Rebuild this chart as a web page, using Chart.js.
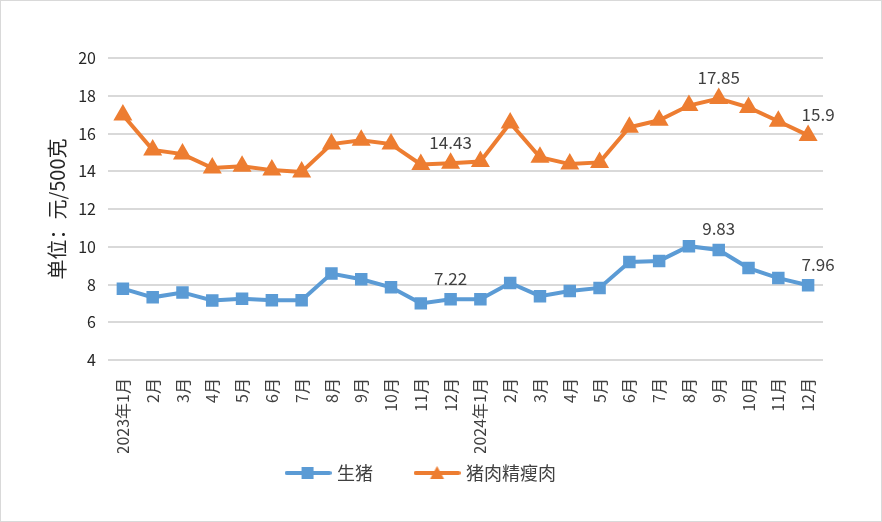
<!DOCTYPE html>
<html>
<head>
<meta charset="utf-8">
<script src="https://cdn.jsdelivr.net/npm/chart.js@4"></script>
<style>
  html, body { margin: 0; padding: 0; background: #fff; }
  #wrap { width: 882px; height: 522px; position: relative; }
</style>
</head>
<body>
<div id="wrap"><canvas id="myChart" width="882" height="522"></canvas></div>
<script>
const months = ['2023年1月', '2月', '3月', '4月', '5月', '6月', '7月', '8月', '9月', '10月', '11月', '12月',
  '2024年1月', '2月', '3月', '4月', '5月', '6月', '7月', '8月', '9月', '10月', '11月', '12月'];

const hogPrice = [7.78, 7.32, 7.58, 7.15, 7.25, 7.17, 7.17, 8.58, 8.28, 7.85, 7.0, 7.22,
  7.22, 8.08, 7.38, 7.66, 7.82, 9.19, 9.25, 10.03, 9.83, 8.87, 8.34, 7.96];

const leanPork = [16.98, 15.13, 14.91, 14.17, 14.27, 14.06, 13.96, 15.44, 15.64, 15.44, 14.36, 14.43,
  14.52, 16.56, 14.74, 14.38, 14.47, 16.33, 16.7, 17.48, 17.85, 17.38, 16.65, 15.9];

// which points get a value label
const labelAt = [11, 20, 23];

const yTicks = [4, 6, 8, 10, 12, 14, 16, 18, 20];

const blue = '#5b9bd5';
const orange = '#ed7d31';
const txt = '#404040';
const font = "'Noto Sans CJK SC', 'Noto Sans', sans-serif";

function legendIcon(color, shape) {
  const c = document.createElement('canvas');
  c.width = 47; c.height = 14;
  const g = c.getContext('2d');
  g.strokeStyle = color; g.lineWidth = 4; g.lineCap = 'round';
  g.beginPath(); g.moveTo(2, 7); g.lineTo(45, 7); g.stroke();
  g.fillStyle = color;
  if (shape === 'rect') {
    g.fillRect(17, 1, 12, 12);
  } else {
    g.beginPath(); g.moveTo(23.5, 0); g.lineTo(30.5, 13); g.lineTo(16.5, 13); g.closePath(); g.fill();
  }
  return c;
}

const frame = {
  id: 'frame',
  beforeDraw(chart) {
    const c = chart.ctx;
    c.save();
    c.fillStyle = '#fff';
    c.fillRect(0, 0, chart.width, chart.height);
    c.strokeStyle = '#d9d9d9';
    c.lineWidth = 1;
    c.strokeRect(0.5, 0.5, chart.width - 1, chart.height - 1);
    c.restore();
  }
};

// legend spacing wants a big padding, but that would push it down; move it back up
const legendNudge = {
  id: 'legendNudge',
  afterLayout(chart) {
    const L = chart.legend;
    L.top -= 33; L.bottom -= 33;
    L.left -= 10; L.right -= 10;
  }
};

const valueLabels = {
  id: 'valueLabels',
  afterDatasetsDraw(chart) {
    const c = chart.ctx;
    c.save();
    c.font = '17px ' + font;
    c.fillStyle = txt;
    c.textAlign = 'center';
    c.textBaseline = 'middle';
    chart.data.datasets.forEach((ds, di) => {
      const meta = chart.getDatasetMeta(di);
      labelAt.forEach(i => {
        const p = meta.data[i];
        let dx = i === ds.data.length - 1 ? 10 : 0;
        c.fillText(String(ds.data[i]), p.x + dx, p.y - 21);
      });
    });
    c.restore();
  }
};

const ctx = document.getElementById('myChart');

new Chart(ctx, {
  type: 'line',
  data: {
    labels: months,
    datasets: [{
      label: '生猪',
      data: hogPrice,
      borderColor: blue,
      backgroundColor: blue,
      borderWidth: 4,
      pointStyle: 'rect',
      pointRadius: 6,
      pointHoverRadius: 6,
      tension: 0
    }, {
      label: '猪肉精瘦肉',
      data: leanPork,
      borderColor: orange,
      backgroundColor: orange,
      borderWidth: 4,
      pointStyle: 'triangle',
      pointRadius: 7,
      pointHoverRadius: 7,
      tension: 0
    }]
  },
  options: {
    responsive: false,
    animation: false,
    layout: { padding: { left: 41, right: 59, top: 58, bottom: -3 } },
    plugins: {
      tooltip: { enabled: false },
      legend: {
        position: 'bottom',
        labels: {
          usePointStyle: true,
          pointStyleWidth: 40,
          color: txt,
          font: { family: font, size: 18 },
          padding: 44,
          generateLabels(chart) {
            return chart.data.datasets.map((ds, i) => ({
              text: ds.label,
              datasetIndex: i,
              fontColor: txt,
              lineWidth: 0,
              strokeStyle: 'transparent',
              fillStyle: ds.borderColor,
              pointStyle: legendIcon(ds.borderColor, i === 0 ? 'rect' : 'tri')
            }));
          }
        }
      }
    },
    scales: {
      x: {
        offset: true,
        grid: { display: false },
        border: { display: false },
        afterFit(scale) { scale.height = 93; },
        ticks: {
          color: txt,
          font: { family: font, size: 16 },
          minRotation: 90,
          maxRotation: 90,
          autoSkip: false,
          padding: 10
        }
      },
      y: {
        min: yTicks[0],
        max: yTicks[yTicks.length - 1],
        afterBuildTicks(scale) { scale.ticks = yTicks.map(v => ({ value: v })); },
        afterFit(scale) { scale.width = 67; },
        grid: { color: '#d9d9d9', lineWidth: 2, drawTicks: false },
        border: { display: false },
        ticks: {
          color: '#262626',
          font: { family: font, size: 16 },
          padding: 12
        },
        title: {
          display: true,
          text: '单位：元/500克',
          color: '#262626',
          font: { family: font, size: 20 },
          padding: 4
        }
      }
    }
  },
  plugins: [frame, legendNudge, valueLabels]
});
</script>
</body>
</html>
